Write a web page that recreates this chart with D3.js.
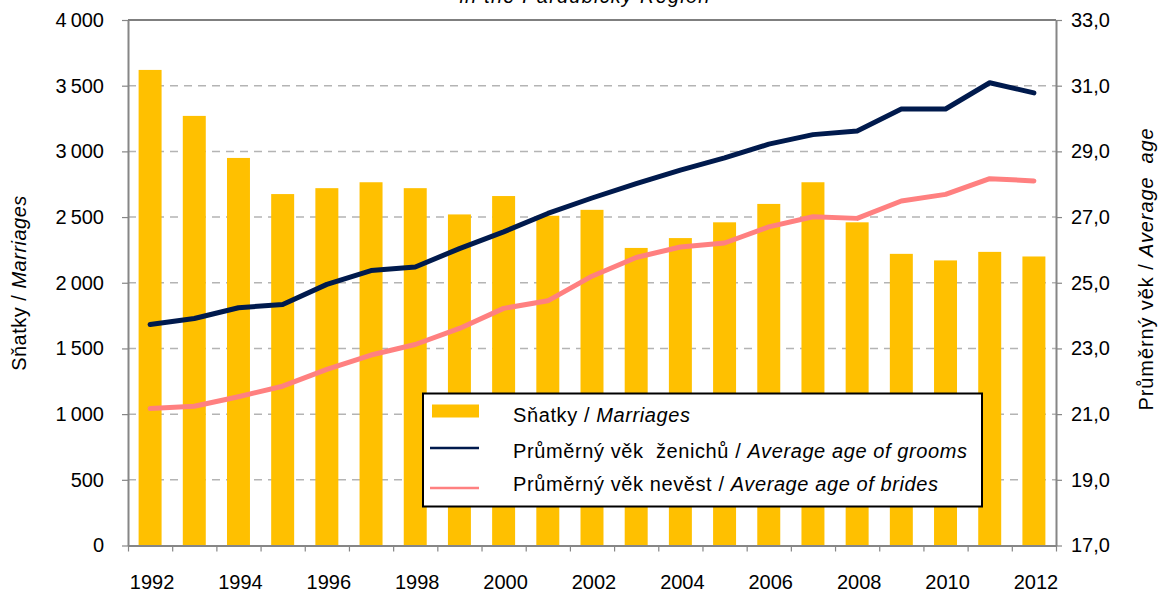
<!DOCTYPE html>
<html>
<head>
<meta charset="utf-8">
<script src="https://cdn.jsdelivr.net/npm/d3@7"></script>
<style>
  body { margin: 0; background: #fff; }
  text { font-family: "Liberation Sans", Arial, sans-serif; fill: #000; white-space: pre; }
</style>
</head>
<body>
<svg id="chart" width="1161" height="592"></svg>
<script>
// categories and series
const years = [1992, 1993, 1994, 1995, 1996, 1997, 1998, 1999, 2000, 2001, 2002,
  2003, 2004, 2005, 2006, 2007, 2008, 2009, 2010, 2011, 2012];
const marriages = [3620, 3270, 2950, 2675, 2720, 2765, 2720, 2520, 2660, 2510, 2555,
  2265, 2340, 2460, 2600, 2765, 2460, 2220, 2170, 2235, 2200];
const groomAge = [23.73, 23.91, 24.24, 24.34, 24.95, 25.37, 25.48, 26.04, 26.55, 27.11, 27.58,
  28.02, 28.43, 28.80, 29.22, 29.51, 29.62, 30.29, 30.29, 31.09, 30.78];
const brideAge = [21.17, 21.24, 21.53, 21.85, 22.36, 22.80, 23.12, 23.61, 24.22, 24.45, 25.20,
  25.77, 26.09, 26.21, 26.70, 27.01, 26.96, 27.49, 27.69, 28.17, 28.10];
const leftTicks = [0, 500, 1000, 1500, 2000, 2500, 3000, 3500, 4000];
const rightTicks = [17, 19, 21, 23, 25, 27, 29, 31, 33];
const yearLabels = [1992, 1994, 1996, 1998, 2000, 2002, 2004, 2006, 2008, 2010, 2012];

const legendItems = [
  {type: 'bar', plain: 'Sňatky / ', italic: 'Marriages', color: '#ffc000'},
  {type: 'line', plain: 'Průměrný věk  ženichů / ', italic: 'Average age of grooms', color: '#001a4d'},
  {type: 'line', plain: 'Průměrný věk nevěst / ', italic: 'Average age of brides', color: '#ff8080'}
];

const plotLeft = 128, plotRight = 1056, plotTop = 20, plotBottom = 545.5;
const fs = 20;
const svg = d3.select('#chart');

const x = d3.scaleBand().domain(years).range([plotLeft, plotRight])
  .paddingInner(0.48).paddingOuter(0.24);
const yL = d3.scaleLinear().domain([0, 4000]).range([plotBottom, plotTop]);
const yR = d3.scaleLinear().domain([17, 33]).range([plotBottom, plotTop]);
const cx = d => x(d) + x.bandwidth() / 2;

const loc = d3.formatLocale({decimal: ',', thousands: '\u2009', grouping: [3], currency: ['', '']});

// grid
svg.append('g').selectAll('line')
  .data(leftTicks.filter(t => t > 0 && t < 4000))
  .join('line')
  .attr('x1', plotLeft).attr('x2', plotRight)
  .attr('y1', d => yL(d)).attr('y2', d => yL(d))
  .attr('stroke', '#b4b4b4').attr('stroke-width', 1.5)
  .attr('stroke-dasharray', '8,6');
svg.append('line')
  .attr('x1', plotLeft).attr('x2', plotRight)
  .attr('y1', yL(4000)).attr('y2', yL(4000))
  .attr('stroke', '#000').attr('stroke-width', 1.2);

// bars
svg.append('g').selectAll('rect')
  .data(marriages)
  .join('rect')
  .attr('x', (d, i) => x(years[i]))
  .attr('y', d => yL(d))
  .attr('width', x.bandwidth())
  .attr('height', d => yL(0) - yL(d))
  .attr('fill', '#ffc000');

// axes
const axisStyle = g => {
  g.select('.domain').attr('stroke', '#868686').attr('stroke-width', 2);
  g.selectAll('.tick line').attr('stroke', '#868686').attr('stroke-width', 1.2);
  g.selectAll('.tick text').attr('font-size', fs).attr('font-family', '"Liberation Sans", Arial, sans-serif').attr('fill', '#000');
};

svg.append('g')
  .attr('transform', `translate(${plotLeft},0)`)
  .call(d3.axisLeft(yL).tickValues(leftTicks).tickSize(6).tickSizeOuter(0).tickPadding(18)
    .tickFormat(loc.format(',')))
  .call(axisStyle);

svg.append('g')
  .attr('transform', `translate(${plotRight},0)`)
  .call(d3.axisRight(yR).tickValues(rightTicks).tickSize(6).tickSizeOuter(0).tickPadding(9)
    .tickFormat(loc.format('.1f')))
  .call(axisStyle);

const xb = d3.scaleLinear().domain([0, years.length]).range([plotLeft, plotRight]);
svg.append('g')
  .attr('transform', `translate(0,${plotBottom})`)
  .call(d3.axisBottom(xb).tickValues(d3.range(years.length + 1)).tickSize(6).tickSizeOuter(0)
    .tickFormat(''))
  .call(axisStyle);

svg.append('g').selectAll('text')
  .data(yearLabels)
  .join('text')
  .attr('x', d => cx(d) + 2)
  .attr('y', 589)
  .attr('text-anchor', 'middle')
  .attr('font-size', fs)
  .text(d => d);

// lines
const line = (scale) => d3.line().x((d, i) => cx(years[i])).y(d => scale(d));
svg.append('path').datum(groomAge)
  .attr('d', line(yR))
  .attr('fill', 'none').attr('stroke', '#001a4d').attr('stroke-width', 5)
  .attr('stroke-linejoin', 'round').attr('stroke-linecap', 'round');
svg.append('path').datum(brideAge)
  .attr('d', line(yR))
  .attr('fill', 'none').attr('stroke', '#ff8080').attr('stroke-width', 5)
  .attr('stroke-linejoin', 'round').attr('stroke-linecap', 'round');

// axis titles
const twoPart = (sel, plain, italic) => {
  sel.append('tspan').text(plain);
  sel.append('tspan').attr('font-style', 'italic').text(italic);
};
svg.append('text')
  .attr('transform', 'translate(26,283) rotate(-90)')
  .attr('text-anchor', 'middle')
  .attr('font-size', fs).attr('letter-spacing', 0.5)
  .call(twoPart, 'Sňatky / ', 'Marriages');
svg.append('text')
  .attr('transform', 'translate(1153,269) rotate(-90)')
  .attr('text-anchor', 'middle')
  .attr('font-size', fs).attr('letter-spacing', 0.9)
  .call(twoPart, 'Průměrný věk / ', 'Average  age');

// title, mostly cut off at the top edge
svg.append('text')
  .attr('x', 585).attr('y', 3)
  .attr('text-anchor', 'middle')
  .attr('font-size', fs).attr('font-style', 'italic').attr('letter-spacing', 1.2)
  .text('in the Pardubický Region');

// legend
const lg = svg.append('g');
lg.append('rect')
  .attr('x', 423).attr('y', 393.5).attr('width', 559).attr('height', 113)
  .attr('fill', '#fff').attr('stroke', '#000').attr('stroke-width', 2);
const markY = [411, 448, 488];
const textY = [422, 458, 491];
legendItems.forEach((it, i) => {
  if (it.type === 'bar') {
    lg.append('rect').attr('x', 432).attr('y', markY[i] - 6.5).attr('width', 47).attr('height', 13)
      .attr('fill', it.color);
  } else {
    lg.append('line').attr('x1', 430).attr('x2', 479).attr('y1', markY[i]).attr('y2', markY[i])
      .attr('stroke', it.color).attr('stroke-width', 2.5);
  }
  lg.append('text')
    .attr('x', 513).attr('y', textY[i])
    .attr('font-size', fs).attr('letter-spacing', 0.6)
    .call(twoPart, it.plain, it.italic);
});
</script>
</body>
</html>
